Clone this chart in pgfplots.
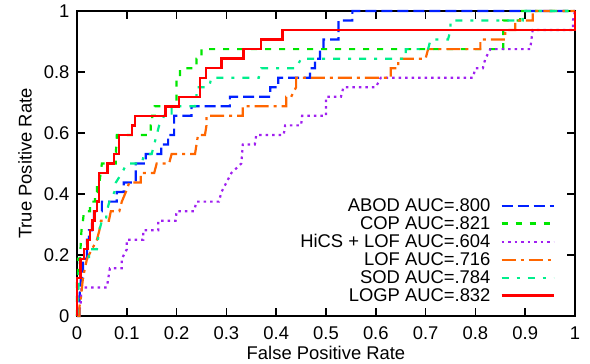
\documentclass[border=0pt]{standalone}
\usepackage{fontspec}
\setmainfont{Liberation Sans}
\usepackage{pgfplots}
\pgfplotsset{compat=1.18}
\definecolor{cabod}{RGB}{0,32,255}
\definecolor{ccop}{RGB}{0,230,0}
\definecolor{chics}{RGB}{160,32,240}
\definecolor{clof}{RGB}{255,102,0}
\definecolor{csod}{RGB}{0,238,140}
\definecolor{clogp}{RGB}{255,0,0}
\begin{document}
\begin{tikzpicture}
\useasboundingbox (-77pt,-48pt) rectangle (513pt,316pt);
\begin{axis}[
  scale only axis,
  width=498pt, height=305pt,
  xmin=0, xmax=1, ymin=0, ymax=1,
  xtick={0,0.1,0.2,0.3,0.4,0.5,0.6,0.7,0.8,0.9,1},
  xticklabels={0,0.1,0.2,0.3,0.4,0.5,0.6,0.7,0.8,0.9,1},
  ytick={0,0.2,0.4,0.6,0.8,1},
  yticklabels={0,0.2,0.4,0.6,0.8,1},
  tick align=inside,
  major tick length=8pt,
  axis line style={line width=1.6pt},
  every tick/.style={black, line width=1.6pt},
  font=\fontsize{18.4}{21}\selectfont,
  ticklabel style={font=\fontsize{18.4}{21}\selectfont},
  xticklabel style={yshift=-7pt},
  yticklabel style={xshift=-4pt},
  xlabel={False Positive Rate},
  ylabel={True Positive Rate},
  every axis x label/.style={at={(axis description cs:0.5,-0.121)}, anchor=center},
  every axis y label/.style={at={(axis description cs:-0.1044,0.5)}, anchor=center, rotate=90},
  clip=false,
  legend plot pos=right,
  legend cell align=right,
  legend image code/.code={\draw[#1] (0pt,0pt) -- (52pt,0pt);},
  legend style={draw=none, fill=none, at={(0.966,0.03)}, anchor=south east,
    font=\fontsize{18.4}{21}\selectfont, row sep=-0.5pt, column sep=8pt},
]
\addplot[cabod, line width=2.2pt, dash pattern=on 11pt off 5pt] coordinates {
(0,0) (0.005,0) (0.005,0.0625) (0.008,0.125) (0.012,0.125) (0.012,0.1875) (0.02,0.1875) (0.02,0.25) (0.024,0.25) (0.024,0.28125) (0.03,0.28125) (0.03,0.3125) (0.034,0.3125) (0.034,0.34375) (0.05,0.34375) (0.05,0.375) (0.08,0.375) (0.08,0.40625) (0.094,0.40625) (0.094,0.4375) (0.118,0.4375) (0.118,0.5) (0.138,0.5) (0.138,0.53125) (0.169,0.53125) (0.169,0.5625) (0.183,0.5625) (0.183,0.59375) (0.195,0.59375) (0.195,0.65625) (0.23,0.65625) (0.23,0.6875) (0.307,0.6875) (0.307,0.71875) (0.388,0.71875) (0.388,0.75) (0.404,0.75) (0.404,0.78125) (0.468,0.78125) (0.468,0.8125) (0.478,0.8125) (0.478,0.84375) (0.488,0.84375) (0.488,0.875) (0.495,0.875) (0.495,0.90625) (0.525,0.90625) (0.525,0.96875) (0.553,0.96875) (0.553,1) (1,1)
};
\addlegendentry{ABOD AUC=.800}
\addplot[ccop, line width=2.2pt, dash pattern=on 6pt off 8pt] coordinates {
(0,0) (0,0.125) (0.002,0.125) (0.002,0.1875) (0.006,0.1875) (0.009,0.28125) (0.012,0.3125) (0.014,0.34375) (0.026,0.34375) (0.026,0.375) (0.036,0.375) (0.036,0.40625) (0.04,0.40625) (0.04,0.4375) (0.045,0.4375) (0.05,0.5) (0.078,0.5) (0.078,0.53125) (0.08,0.59375) (0.148,0.59375) (0.148,0.625) (0.151,0.625) (0.151,0.65625) (0.156,0.65625) (0.156,0.6875) (0.2,0.6875) (0.2,0.78125) (0.207,0.78125) (0.207,0.8125) (0.24,0.8125) (0.24,0.84375) (0.25,0.84375) (0.25,0.875) (0.856,0.875) (0.856,0.96875) (0.89,0.96875) (0.89,1) (1,1)
};
\addlegendentry{COP AUC=.821}
\addplot[chics, line width=2.2pt, dash pattern=on 2.5pt off 4pt] coordinates {
(0,0) (0.007,0.03125) (0.009,0.09375) (0.06,0.09375) (0.063,0.125) (0.066,0.15625) (0.09,0.15625) (0.09,0.1875) (0.1,0.21875) (0.1,0.25) (0.133,0.25) (0.133,0.28125) (0.163,0.28125) (0.163,0.3125) (0.198,0.3125) (0.2,0.34375) (0.235,0.34375) (0.24,0.375) (0.285,0.375) (0.29,0.40625) (0.30,0.4375) (0.31,0.46875) (0.33,0.5) (0.333,0.5625) (0.357,0.5625) (0.36,0.59375) (0.415,0.59375) (0.418,0.625) (0.45,0.625) (0.452,0.65625) (0.50,0.65625) (0.50,0.71875) (0.53,0.71875) (0.535,0.75) (0.60,0.75) (0.61,0.78125) (0.795,0.78125) (0.80,0.8125) (0.815,0.8125) (0.82,0.84375) (0.83,0.875) (0.91,0.875) (0.915,0.9375) (0.996,0.9375) (0.996,0.96875) (1,1)
};
\addlegendentry{HiCS + LOF AUC=.604}
\addplot[clof, line width=2.2pt, dash pattern=on 14pt off 5pt on 3pt off 5pt] coordinates {
(0,0) (0.005,0) (0.005,0.03125) (0.008,0.0625) (0.012,0.125) (0.02,0.1875) (0.03,0.21875) (0.04,0.25) (0.045,0.28125) (0.048,0.3125) (0.064,0.3125) (0.068,0.34375) (0.085,0.34375) (0.09,0.375) (0.098,0.40625) (0.105,0.4375) (0.128,0.4375) (0.128,0.46875) (0.155,0.46875) (0.16,0.5) (0.185,0.5) (0.19,0.53125) (0.237,0.53125) (0.24,0.5625) (0.243,0.59375) (0.257,0.59375) (0.26,0.625) (0.26,0.65625) (0.333,0.65625) (0.333,0.6875) (0.42,0.6875) (0.42,0.71875) (0.43,0.71875) (0.44,0.75) (0.44,0.78125) (0.63,0.78125) (0.63,0.8125) (0.645,0.8125) (0.645,0.84375) (0.70,0.84375) (0.705,0.875) (0.81,0.875) (0.81,0.90625) (0.86,0.90625) (0.86,0.9375) (0.88,0.9375) (0.88,0.96875) (0.915,0.96875) (0.915,1) (1,1)
};
\addlegendentry{LOF AUC=.716}
\addplot[csod, line width=2.2pt, dash pattern=on 7pt off 8pt on 3pt off 8pt] coordinates {
(0,0) (0.002,0.0625) (0.004,0.125) (0.006,0.1875) (0.024,0.1875) (0.024,0.21875) (0.04,0.21875) (0.042,0.25) (0.045,0.28125) (0.05,0.3125) (0.058,0.3125) (0.06,0.34375) (0.065,0.375) (0.075,0.40625) (0.078,0.4375) (0.09,0.46875) (0.1,0.5) (0.13,0.5) (0.135,0.53125) (0.15,0.53125) (0.155,0.5625) (0.16,0.59375) (0.165,0.625) (0.175,0.65625) (0.19,0.65625) (0.19,0.6875) (0.237,0.6875) (0.24,0.71875) (0.24,0.75) (0.265,0.75) (0.27,0.78125) (0.365,0.78125) (0.37,0.8125) (0.44,0.8125) (0.45,0.84375) (0.66,0.84375) (0.66,0.875) (0.705,0.875) (0.71,0.90625) (0.745,0.90625) (0.75,0.9375) (0.75,0.96875) (0.895,0.96875) (0.895,1) (1,1)
};
\addlegendentry{SOD AUC=.784}
\addplot[clogp, line width=2.4pt] coordinates {
(0,0) (0,0.125) (0.007,0.125) (0.007,0.1875) (0.014,0.1875) (0.014,0.21875) (0.021,0.21875) (0.021,0.25) (0.026,0.25) (0.026,0.28125) (0.031,0.28125) (0.031,0.3125) (0.035,0.3125) (0.035,0.34375) (0.040,0.34375) (0.040,0.375) (0.044,0.375) (0.044,0.46875) (0.061,0.46875) (0.061,0.5) (0.074,0.5) (0.074,0.53125) (0.084,0.53125) (0.084,0.59375) (0.111,0.59375) (0.111,0.625) (0.116,0.625) (0.116,0.65625) (0.178,0.65625) (0.178,0.6875) (0.205,0.6875) (0.205,0.71875) (0.247,0.71875) (0.247,0.78125) (0.259,0.78125) (0.259,0.8125) (0.29,0.8125) (0.29,0.84375) (0.334,0.84375) (0.334,0.875) (0.369,0.875) (0.369,0.90625) (0.413,0.90625) (0.413,0.9375) (1,0.9375) (1,1)
};
\addlegendentry{LOGP AUC=.832}
\end{axis}
\end{tikzpicture}
\end{document}
